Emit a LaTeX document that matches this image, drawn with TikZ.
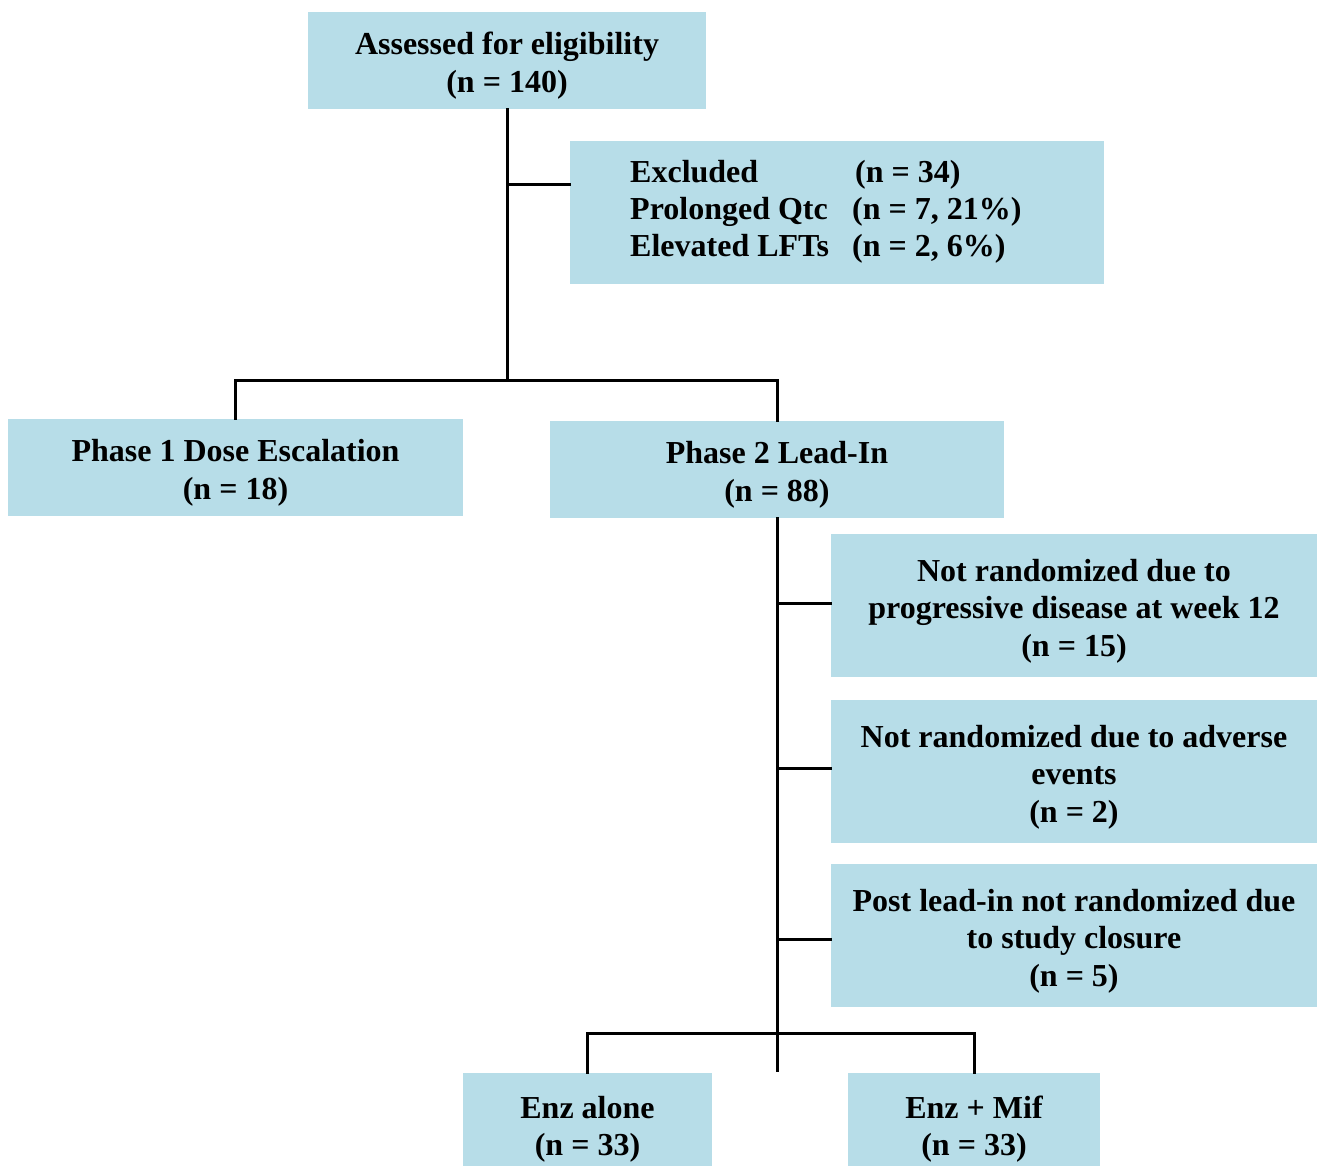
\documentclass[tikz,border=0pt]{standalone}
\usepackage{fontspec}
\setmainfont{Liberation Serif}
\definecolor{boxblue}{RGB}{183,221,232}
\newcommand{\toppad}{\rule{0pt}{33pt}}
\begin{document}
\begin{tikzpicture}[x=1pt,y=-1pt,
  box/.style={fill=boxblue, draw=none, inner sep=0pt, align=center,
    font=\fontsize{32}{37.5}\selectfont\bfseries},
  plain/.style={fill=boxblue, draw=none, inner sep=0pt},
  conn/.style={line width=3pt, line cap=rect}]
\useasboundingbox (0,0) rectangle (1317,1165);
\node[box, minimum width=398, minimum height=97] (top) at (507,60.5) {\toppad Assessed for eligibility\\(n = 140)};
\node[plain, minimum width=534, minimum height=143] (excl) at (837,212.5) {};
\node[anchor=west, inner sep=0pt, font=\fontsize{32}{37}\selectfont\bfseries] (exclt) at (630,212)
  {\begin{tabular}{@{}p{222pt}@{}l@{}}Excluded & \hspace{3pt}(n = 34)\\ Prolonged Qtc & (n = 7, 21\%)\\ Elevated LFTs & (n = 2, 6\%)\end{tabular}};
\node[box, minimum width=455, minimum height=97] (p1) at (235.5,467.5) {\toppad Phase 1 Dose Escalation\\(n = 18)};
\node[box, minimum width=454, minimum height=97] (p2) at (777,469.5) {\toppad Phase 2 Lead-In\\(n = 88)};
\node[box, minimum width=486, minimum height=143] (nr1) at (1074,605.5) {\toppad Not randomized due to\\progressive disease at week 12\\(n = 15)};
\node[box, minimum width=486, minimum height=143] (nr2) at (1074,771.5) {\toppad Not randomized due to adverse\\events\\(n = 2)};
\node[box, minimum width=486, minimum height=143] (nr3) at (1074,935.5) {\toppad Post lead-in not randomized due\\to study closure\\(n = 5)};
\node[box, minimum width=249, minimum height=102] (e1) at (587.5,1124) {\toppad Enz alone\\(n = 33)};
\node[box, minimum width=252, minimum height=102] (e2) at (974,1124) {\toppad Enz + Mif\\(n = 33)};
\coordinate (j1) at (507,380);
\coordinate (jx) at (507,184);
\coordinate (b1) at (777,603);
\coordinate (b2) at (777,768);
\coordinate (b3) at (777,939);
\coordinate (jend) at (777,1070);
\coordinate (j3) at (777,1033);
\draw[conn] (top.south) -- (j1);
\draw[conn] (jx) -- (excl.west |- jx);
\draw[conn] (p1.north) |- (j1) -| (p2.north);
\draw[conn] (p2.south) -- (jend);
\draw[conn] (b1) -- (nr1.west |- b1);
\draw[conn] (b2) -- (nr2.west |- b2);
\draw[conn] (b3) -- (nr3.west |- b3);
\draw[conn] (e1.north) |- (j3) -| (e2.north);
\end{tikzpicture}
\end{document}
